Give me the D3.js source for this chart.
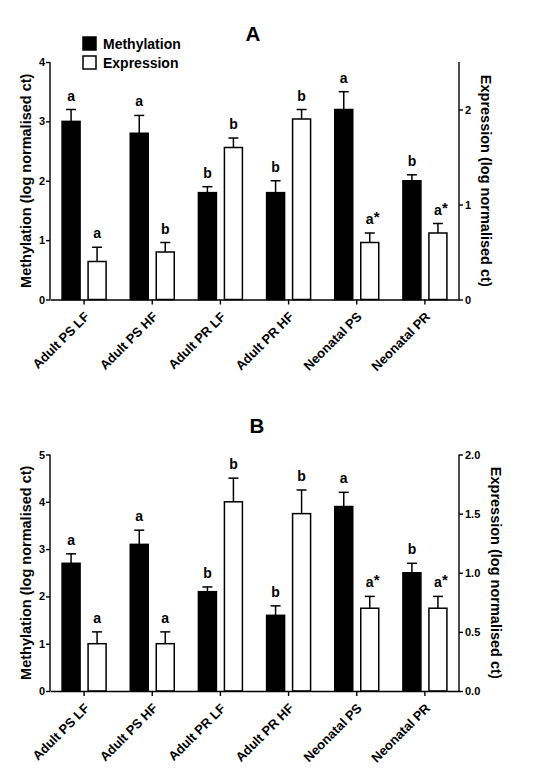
<!DOCTYPE html>
<html><head><meta charset="utf-8">
<script src="https://cdn.jsdelivr.net/npm/d3@7"></script>
<style>
body{margin:0;background:#fff;}
svg text{font-family:"Liberation Sans",Arial,sans-serif;font-weight:bold;fill:#000;}
</style></head>
<body><svg id="c" width="544" height="780"></svg>
<script>
const categories = ["Adult PS LF","Adult PS HF","Adult PR LF","Adult PR HF","Neonatal PS","Neonatal PR"];
const methA = [3.0, 2.8, 1.8, 1.8, 3.2, 2.0];
const methAErr = [0.2, 0.3, 0.1, 0.2, 0.3, 0.1];
const exprA = [0.4, 0.5, 1.6, 1.9, 0.6, 0.7];
const exprAErr = [0.15, 0.1, 0.1, 0.1, 0.1, 0.1];
const methB = [2.7, 3.1, 2.1, 1.6, 3.9, 2.5];
const methBErr = [0.2, 0.3, 0.1, 0.2, 0.3, 0.2];
const exprB = [0.4, 0.4, 1.6, 1.5, 0.7, 0.7];
const exprBErr = [0.1, 0.1, 0.2, 0.2, 0.1, 0.1];
const methLabels = ["a","a","b","b","a","b"];
const exprLabels = ["a","b","b","b","a*","a*"];
const methLabelsB = ["a","a","b","b","a","b"];
const exprLabelsB = ["a","a","b","b","a*","a*"];
const leftTicksA = [0,1,2,3,4];
const rightTicksA = [0,1,2];
const leftTicksB = [0,1,2,3,4,5];
const rightTicksB = [0,0.5,1.0,1.5,2.0];

const svg = d3.select("#c");
const X0 = 50, X1 = 459;

function panel(o){
  const g = svg.append("g");
  const x = d3.scaleBand().domain(categories).range([X0, X1]);
  const yL = d3.scaleLinear().domain(o.lDom).range([o.bottom, o.top]);
  const yR = d3.scaleLinear().domain(o.rDom).range([o.bottom, o.top]);
  const cx = c => x(c) + x.bandwidth()/2;
  const sw = 1.5;
  const drawSeries = (vals, errs, labs, y, fill, off0, off1) => {
    categories.forEach((c,i)=>{
      const xa = cx(c)+off0, xb = cx(c)+off1, xm = (xa+xb)/2;
      g.append("rect").attr("x",xa).attr("y",y(vals[i])).attr("width",xb-xa)
        .attr("height",y(0)-y(vals[i])).attr("fill",fill).attr("stroke","#000").attr("stroke-width",sw);
      const et = y(vals[i]+errs[i]);
      g.append("line").attr("x1",xm).attr("x2",xm).attr("y1",y(vals[i])).attr("y2",et)
        .attr("stroke","#000").attr("stroke-width",sw);
      g.append("line").attr("x1",xm-5).attr("x2",xm+5).attr("y1",et).attr("y2",et)
        .attr("stroke","#000").attr("stroke-width",sw);
      const lab = labs[i];
      g.append("text").attr("x",xm).attr("y",et-9).attr("text-anchor","middle")
        .style("font-size","14px").text(lab.replace("*",""));
      if(lab.includes("*")){
        g.append("text").attr("x",xm+4).attr("y",et-11).style("font-size","15px").text("*");
      }
    });
  };
  drawSeries(o.meth, o.methErr, o.methLab, yL, "#000", -22, -4);
  drawSeries(o.expr, o.exprErr, o.exprLab, yR, "#fff", 4, 22);
  // x axis
  const ax = g.append("g").attr("transform",`translate(0,${o.bottom})`)
    .call(d3.axisBottom(x).tickSize(5).tickSizeOuter(0).tickFormat(""));
  ax.selectAll("line,path").attr("stroke","#000").attr("stroke-width",1.4);
  categories.forEach(c=>{
    g.append("text").attr("text-anchor","end")
      .attr("transform",`translate(${cx(c)+6},${o.bottom+18}) rotate(-45)`)
      .style("font-size","13px").text(c);
  });
  const al = g.append("g").attr("transform",`translate(${X0},0)`)
    .call(d3.axisLeft(yL).tickValues(o.lTicks).tickSize(4).tickSizeOuter(0).tickFormat(o.lFmt));
  al.selectAll("line,path").attr("stroke","#000").attr("stroke-width",1.4);
  al.selectAll("text").style("font-size","11px").attr("x",-5).attr("fill","#000");
  const ar = g.append("g").attr("transform",`translate(${X1},0)`)
    .call(d3.axisRight(yR).tickValues(o.rTicks).tickSize(4).tickSizeOuter(0).tickFormat(o.rFmt));
  ar.selectAll("line,path").attr("stroke","#000").attr("stroke-width",1.4);
  ar.selectAll("text").style("font-size","11px").attr("x",6).attr("fill","#000");
  ar.select(".domain").attr("d",`M0,${o.bottom}V${o.top}`);
  al.select(".domain").attr("d",`M0,${o.bottom}V${o.top}`);
  const mid = (o.top+o.bottom)/2;
  g.append("text").attr("transform",`translate(31,${mid}) rotate(-90)`).attr("text-anchor","middle")
    .style("font-size","14.5px").text("Methylation (log normalised ct)");
  g.append("text").attr("transform",`translate(${o.rLabX},${mid}) rotate(90)`).attr("text-anchor","middle")
    .style("font-size","14.5px").text("Expression (log normalised ct)");
  g.append("text").attr("x",o.titleX).attr("y",o.titleY).attr("text-anchor","middle")
    .style("font-size","20.5px").text(o.title);
}

panel({top:62, bottom:299.5, lDom:[0,4], rDom:[0,2.5], meth:methA, methErr:methAErr, expr:exprA, exprErr:exprAErr,
  methLab:methLabels, exprLab:exprLabels, lTicks:leftTicksA, rTicks:rightTicksA, lFmt:d3.format("d"), rFmt:d3.format("d"),
  rLabX:481, title:"A", titleX:253, titleY:40.5});
panel({top:454.5, bottom:691, lDom:[0,5], rDom:[0,2], meth:methB, methErr:methBErr, expr:exprB, exprErr:exprBErr,
  methLab:methLabelsB, exprLab:exprLabelsB, lTicks:leftTicksB, rTicks:rightTicksB, lFmt:d3.format("d"), rFmt:d3.format(".1f"),
  rLabX:491, title:"B", titleX:257, titleY:433});

// legend
const legendItems = ["Methylation","Expression"];
const legendFill = ["#000","#fff"];
legendItems.forEach((t,i)=>{
  const y0 = 37 + i*19;
  svg.append("rect").attr("x",83).attr("y",y0).attr("width",13).attr("height",13)
    .attr("fill",legendFill[i]).attr("stroke","#000").attr("stroke-width",1.5);
  svg.append("text").attr("x",103).attr("y",y0+12).style("font-size","14px").text(t);
});
</script></body></html>
